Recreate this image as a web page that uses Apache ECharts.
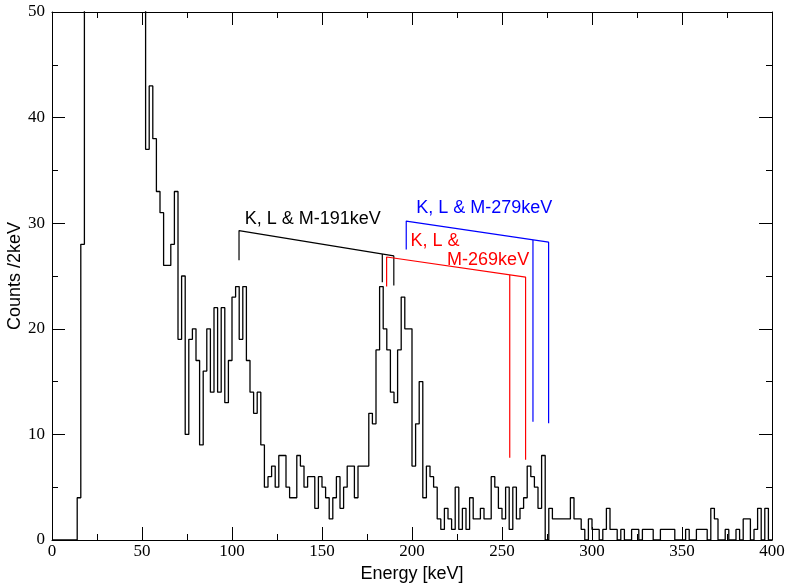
<!DOCTYPE html>
<html><head><meta charset="utf-8">
<script src="https://cdn.jsdelivr.net/npm/echarts@6/dist/echarts.min.js"></script>
<style>html,body{margin:0;padding:0;background:#fff}#c{width:788px;height:586px}</style>
</head><body><div id="c"></div>
<script>
// ---- data ----
const BIN_WIDTH = 2; // keV per bin, first bin starts at 0 keV
// counts per 2 keV bin (values in 18-52 keV run off the top of the plot)
const counts = [
  0,0,0,0,0,0,0,4,28,
  90,160,240,300,330,310,270,230,200,170,150,130,115,100,85,72,60,
  37,43,38,33,31,26,26,28,33,19,25,10,19,20,17,9,16,20,14,22,14,22,13,17,
  23,24,19,24,17,14,12,14,9,5,6,7,5,8,8,5,4,4,8,7,5,6,6,3,6,5,4,2,4,6,
  3,5,7,7,4,7,7,7,12,11,18,24,20,18,14,13,18,23,20,20,
  7,11,15,4,7,6,5,2,1,3,2,1,5,1,3,1,4,2,2,3,2,2,6,5,3,2,5,1,5,2,
  3,4,7,6,5,3,8,0,3,2,2,2,2,2,4,2,2,1,0,2,
  1,1,0,1,3,1,1,0,1,0,0,1,1,0,1,1,1,0,0,1,
  1,1,1,0,0,0,1,0,0,1,1,1,0,3,2,0,0,1,0,0,
  1,0,2,2,0,1,3,0,3,0
];
const xTickValues = [0,50,100,150,200,250,300,350,400];
const yTickValues = [0,10,20,30,40,50];

// K, L, M conversion-line brackets: [energy keV, count level]
const bracket191 = { main: [[103.9,26.5],[103.9,29.3],[189.9,26.9],[189.9,24.1]], mid: [[183.5,27.08],[183.5,24.4]] };
const bracket269 = { main: [[185.9,24.0],[185.9,26.8],[263.1,24.9],[263.1,7.6]],  mid: [[254.3,25.1],[254.3,7.8]] };
const bracket279 = { main: [[196.8,27.5],[196.8,30.2],[275.9,28.2],[275.9,11.05]], mid: [[267.2,28.42],[267.2,11.2]] };
const labels = [
  { text: 'K, L & M-191keV', at: [107.1, 30.37], color: '#000' },
  { text: 'K, L & M-279keV', at: [202.3, 31.44], color: '#0000ff' },
  { text: 'K, L &',          at: [199.2, 28.3],  color: '#ff0000' },
  { text: 'M-269keV',        at: [219.5, 26.5],  color: '#ff0000' }
];

// ---- build ----
const histData = counts.map((c, i) => [i * BIN_WIDTH, c]);
histData.push([counts.length * BIN_WIDTH, counts[counts.length - 1]]);

const chart = echarts.init(document.getElementById('c'), null, { renderer: 'canvas' });
const serif = 'Liberation Serif, Times New Roman, serif';
const sans = 'Liberation Sans, Arial, Helvetica, sans-serif';

function axisCommon(extra) {
  return Object.assign({
    type: 'value',
    axisLine: { show: true, onZero: false, lineStyle: { color: '#000', width: 1 } },
    axisTick: { show: true, inside: true, length: 13, lineStyle: { color: '#000', width: 1 } },
    minorTick: { show: true, splitNumber: 2, length: 6, lineStyle: { color: '#000', width: 1 } },
    splitLine: { show: false },
    minorSplitLine: { show: false }
  }, extra);
}

function bracketSeries(pts, color) {
  return {
    type: 'line', data: pts, xAxisIndex: 0, yAxisIndex: 0,
    symbol: 'none', silent: true, animation: false,
    lineStyle: { color: color, width: 1.2 }
  };
}

const series = [
  {
    type: 'line', data: histData, step: 'end', symbol: 'none', clip: true,
    xAxisIndex: 0, yAxisIndex: 0, animation: false,
    lineStyle: { color: '#000', width: 1.3 }
  },
  bracketSeries(bracket191.main, '#000'), bracketSeries(bracket191.mid, '#000'),
  bracketSeries(bracket269.main, '#ff0000'), bracketSeries(bracket269.mid, '#ff0000'),
  bracketSeries(bracket279.main, '#0000ff'), bracketSeries(bracket279.mid, '#0000ff')
];

chart.setOption({
  backgroundColor: '#fff',
  animation: false,
  grid: { left: 52, right: 16, top: 12, bottom: 46, containLabel: false, outerBoundsMode: 'none' },
  xAxis: [
    axisCommon({ min: 0, max: 400, interval: 50, position: 'bottom',
      name: 'Energy [keV]', nameLocation: 'middle', nameGap: 25, nameMoveOverlap: false,
      nameTextStyle: { fontFamily: sans, fontSize: 18, color: '#000' },
      axisLabel: { show: true, margin: 3, fontFamily: serif, fontSize: 17, color: '#000',
        formatter: v => xTickValues.includes(v) ? String(v) : '' } }),
    axisCommon({ min: 0, max: 400, interval: 50, position: 'top', axisLabel: { show: false } })
  ],
  yAxis: [
    axisCommon({ min: 0, max: 50, interval: 10, position: 'left',
      name: 'Counts /2keV', nameLocation: 'middle', nameGap: 28, nameRotate: 90, nameMoveOverlap: false,
      nameTextStyle: { fontFamily: sans, fontSize: 18, color: '#000' },
      axisLabel: { show: true, margin: 7, fontFamily: serif, fontSize: 17, color: '#000',
        formatter: v => yTickValues.includes(v) ? String(v) : '' } }),
    axisCommon({ min: 0, max: 50, interval: 10, position: 'right', axisLabel: { show: false } })
  ],
  series: series
});

// annotation texts placed through the axis scales
chart.setOption({
  graphic: labels.map(l => {
    const p = chart.convertToPixel({ xAxisIndex: 0, yAxisIndex: 0 }, l.at);
    return { type: 'text', x: p[0], y: p[1], silent: true,
      style: { text: l.text, fill: l.color, font: '18px ' + sans, textAlign: 'left', textVerticalAlign: 'middle' } };
  })
});
</script>
</body></html>
